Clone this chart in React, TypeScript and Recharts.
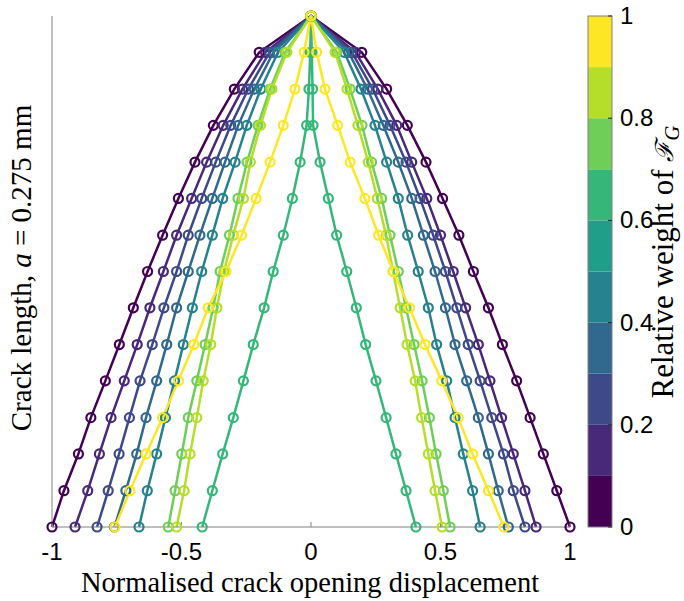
import { LineChart, Line, XAxis, YAxis } from 'recharts';

// normalised position along the crack (15 nodes, bottom to tip)
const crackPosition = [0, 0.071, 0.143, 0.214, 0.286, 0.357, 0.429, 0.5, 0.571, 0.643, 0.714, 0.786, 0.857, 0.929, 1];

// crack opening per node, left flank and right flank (bottom -> tip)
const w0Left = [-1.0, -0.954, -0.898, -0.85, -0.794, -0.74, -0.686, -0.631, -0.573, -0.512, -0.448, -0.377, -0.296, -0.2, 0];
const w0Right = [1.0, 0.949, 0.897, 0.846, 0.794, 0.739, 0.685, 0.627, 0.571, 0.508, 0.444, 0.372, 0.292, 0.196, 0];

const w1Left = [-0.911, -0.862, -0.817, -0.772, -0.721, -0.671, -0.622, -0.57, -0.519, -0.461, -0.403, -0.339, -0.265, -0.176, 0];
const w1Right = [0.869, 0.826, 0.781, 0.736, 0.691, 0.646, 0.597, 0.549, 0.5, 0.447, 0.389, 0.331, 0.258, 0.172, 0];

const w2Left = [-0.826, -0.783, -0.741, -0.701, -0.66, -0.613, -0.568, -0.519, -0.474, -0.422, -0.368, -0.31, -0.242, -0.16, 0];
const w2Right = [0.826, 0.781, 0.743, 0.698, 0.653, 0.607, 0.563, 0.519, 0.472, 0.421, 0.367, 0.305, 0.238, 0.158, 0];

const w3Left = [-0.759, -0.715, -0.673, -0.637, -0.596, -0.557, -0.519, -0.474, -0.429, -0.381, -0.332, -0.281, -0.219, -0.145, 0];
const w3Right = [0.762, 0.723, 0.685, 0.646, 0.601, 0.556, 0.519, 0.479, 0.434, 0.389, 0.337, 0.279, 0.218, 0.145, 0];

const w4Left = [-0.664, -0.632, -0.596, -0.562, -0.527, -0.493, -0.458, -0.422, -0.381, -0.341, -0.293, -0.248, -0.194, -0.127, 0];
const w4Right = [0.653, 0.624, 0.588, 0.556, 0.524, 0.485, 0.453, 0.414, 0.373, 0.337, 0.292, 0.247, 0.193, 0.128, 0];

const w6Left = [-0.42, -0.381, -0.341, -0.3, -0.261, -0.223, -0.181, -0.146, -0.107, -0.072, -0.042, -0.017, -0.008, -0.003, 0];
const w6Right = [0.405, 0.367, 0.328, 0.29, 0.251, 0.211, 0.175, 0.138, 0.099, 0.067, 0.035, 0.008, 0.006, 0.003, 0];

const w7Left = [-0.551, -0.525, -0.499, -0.474, -0.441, -0.409, -0.378, -0.351, -0.315, -0.282, -0.247, -0.205, -0.158, -0.1, 0];
const w7Right = [0.537, 0.511, 0.483, 0.457, 0.429, 0.398, 0.367, 0.337, 0.305, 0.273, 0.234, 0.197, 0.151, 0.1, 0];

const w8Left = [-0.519, -0.49, -0.467, -0.441, -0.416, -0.387, -0.363, -0.336, -0.3, -0.261, -0.234, -0.195, -0.151, -0.093, 0];
const w8Right = [0.506, 0.479, 0.453, 0.427, 0.402, 0.371, 0.344, 0.317, 0.29, 0.256, 0.221, 0.181, 0.139, 0.093, 0];

const w10Left = [-0.757, -0.699, -0.637, -0.573, -0.512, -0.452, -0.397, -0.328, -0.268, -0.212, -0.158, -0.107, -0.062, -0.027, 0];
const w10Right = [0.745, 0.685, 0.624, 0.568, 0.505, 0.44, 0.38, 0.318, 0.261, 0.208, 0.151, 0.103, 0.054, 0.022, 0];

const xTicks = [-1, -0.5, 0, 0.5, 1];

const colorbarColors = ['#440154', '#482878', '#3e4989', '#31688e', '#26828e', '#1f9e89', '#35b779', '#6ece58', '#b5de2b', '#fde725'];
const colorbarTicks = [0, 0.2, 0.4, 0.6, 0.8, 1];
const colorbarLabels = ['0', '0.2', '0.4', '0.6', '0.8', '1'];

const series = [
  { name: 'w = 0', color: '#440154', left: w0Left, right: w0Right },
  { name: 'w = 0.1', color: '#482878', left: w1Left, right: w1Right },
  { name: 'w = 0.2', color: '#3e4989', left: w2Left, right: w2Right },
  { name: 'w = 0.3', color: '#31688e', left: w3Left, right: w3Right },
  { name: 'w = 0.4', color: '#26828e', left: w4Left, right: w4Right },
  { name: 'w = 0.6', color: '#35b779', left: w6Left, right: w6Right },
  { name: 'w = 0.7', color: '#6ece58', left: w7Left, right: w7Right },
  { name: 'w = 0.8', color: '#b5de2b', left: w8Left, right: w8Right },
  { name: 'w = 1', color: '#fde725', left: w10Left, right: w10Right },
];

// left flank up to the tip, then down the right flank
function profile(left: number[], right: number[]) {
  const up = left.map((x, i) => ({ x, y: crackPosition[i] }));
  const down = right
    .slice(0, -1)
    .map((x, i) => ({ x, y: crackPosition[i] }))
    .reverse();
  return [...up, ...down];
}

const SANS = '"Liberation Sans", Arial, Helvetica, sans-serif';
const SERIF = '"Liberation Serif", "Times New Roman", serif';
const AXIS = '#808080';

// colorbar geometry
const CB_X = 588;
const CB_W = 24;
const CB_TOP = 16;
const CB_BOTTOM = 527;
const cbY = (v: number) => CB_BOTTOM - v * (CB_BOTTOM - CB_TOP);

export default function App() {
  return (
    <div style={{ position: 'absolute', left: 0, top: 0, width: 684, height: 601, background: '#fff' }}>
      <LineChart width={684} height={601} margin={{ top: 16, right: 114, bottom: 0, left: 0 }}>
        <XAxis
          type="number"
          dataKey="x"
          domain={[-1, 1]}
          ticks={xTicks}
          height={74}
          tickSize={-5}
          tickMargin={21}
          stroke={AXIS}
          tick={{ fill: '#000', fontSize: 24, fontFamily: SANS }}
        />
        <YAxis
          type="number"
          dataKey="y"
          domain={[0, 1]}
          ticks={[0, 1]}
          width={52}
          tick={false}
          tickSize={-5}
          stroke={AXIS}
        />
        {series.map((s) => (
          <Line
            key={s.name}
            name={s.name}
            data={profile(s.left, s.right)}
            dataKey="y"
            type="linear"
            stroke={s.color}
            strokeWidth={2.5}
            dot={{ r: 4.5, fill: 'none', stroke: s.color, strokeWidth: 2.2 }}
            isAnimationActive={false}
          />
        ))}
      </LineChart>

      <svg
        width={684}
        height={601}
        style={{ position: 'absolute', left: 0, top: 0, pointerEvents: 'none' }}
      >
        <text x={310} y={592} textAnchor="middle" fontFamily={SERIF} fontSize={28.5} fill="#000">
          Normalised crack opening displacement
        </text>
        <text
          transform="translate(31,268) rotate(-90)"
          textAnchor="middle"
          fontFamily={SERIF}
          fontSize={29}
          fill="#000"
        >
          Crack length, <tspan fontStyle="italic">a</tspan> = 0.275 mm
        </text>

        {colorbarColors.map((c, i) => (
          <rect
            key={c}
            x={CB_X}
            y={cbY((i + 1) / colorbarColors.length)}
            width={CB_W}
            height={(CB_BOTTOM - CB_TOP) / colorbarColors.length}
            fill={c}
          />
        ))}
        <rect x={CB_X} y={CB_TOP} width={CB_W} height={CB_BOTTOM - CB_TOP} fill="none" stroke={AXIS} strokeWidth={1} />
        {colorbarTicks.map((t, i) => (
          <g key={t}>
            <line x1={CB_X + CB_W - 4} x2={CB_X + CB_W} y1={cbY(t)} y2={cbY(t)} stroke="#262626" strokeWidth={1} />
            <text
              x={CB_X + CB_W + 8}
              y={cbY(t) + 8}
              fontFamily={SANS}
              fontSize={24}
              fill="#000"
            >
              {colorbarLabels[i]}
            </text>
          </g>
        ))}
        <text
          transform="translate(673,262) rotate(-90)"
          textAnchor="middle"
          fontFamily={SERIF}
          fontSize={31}
          fill="#000"
        >
          Relative weight of{' '}
          <tspan fontFamily='"DejaVu Serif", serif' fontStyle="italic" fontSize={25}>
            ℱ
          </tspan>
          <tspan fontSize={21} dy={6} fontStyle="italic">
            G
          </tspan>
        </text>
      </svg>
    </div>
  );
}
